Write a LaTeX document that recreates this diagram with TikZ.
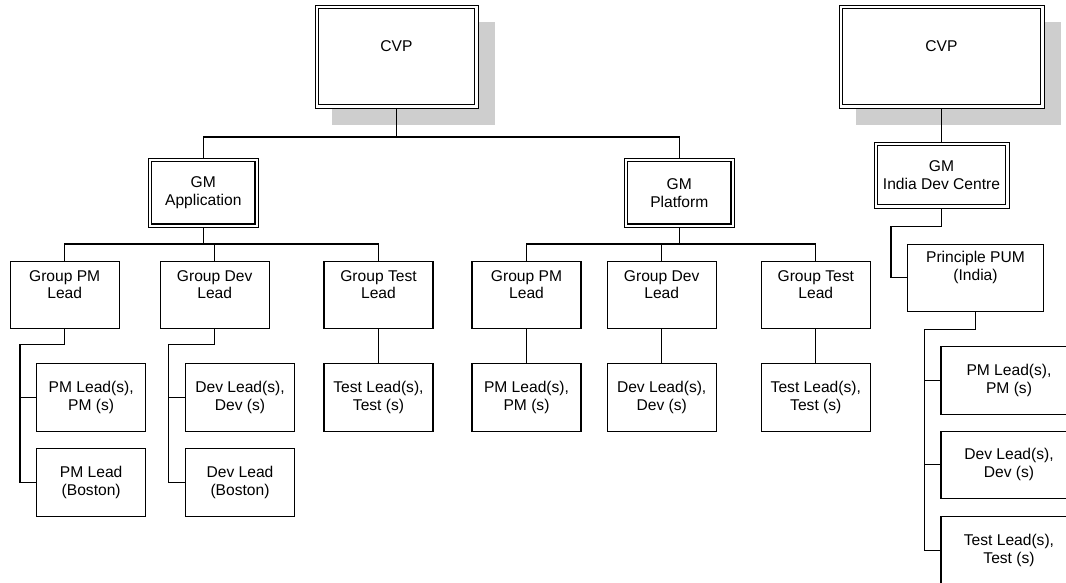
\documentclass[tikz,border=0pt]{standalone}
\usepackage{fontspec}
\setmainfont{Liberation Sans}
\definecolor{shadowgray}{RGB}{206,206,206}
\begin{document}
\begin{tikzpicture}[x=1pt,y=-1pt,
  every node/.style={font=\fontsize{15.6pt}{17.7pt}\selectfont},
  box/.style={draw, line width=1.1pt, fill=white, inner sep=0pt, outer sep=0pt,
    align=center, minimum width=109pt, minimum height=67pt},
  subbox/.style={box, minimum height=68pt},
  dblbox/.style={box, line width=0.7pt},
  innerline/.style={draw, line width=1.3pt},
  shadowed/.style={preaction={fill=shadowgray, draw=none,
    transform canvas={xshift=17pt, yshift=-17pt}}},
  wire/.style={draw, line width=1.1pt},
  lbl/.style={align=center, inner sep=0pt},
  raised/.style={label={[lbl, yshift=10.5pt]center:#1}}]
\useasboundingbox (0,0) rectangle (1066,583);
\clip (0,0) rectangle (1066,583);

% executives
\node[dblbox, shadowed, minimum width=163pt, minimum height=103pt, raised=CVP] (cvp1) at (396.5,56.5) {};
\node[dblbox, shadowed, minimum width=205pt, minimum height=103pt, raised=CVP] (cvp2) at (941.5,56.5) {};

% general managers
\node[dblbox, minimum width=110pt, minimum height=69pt] (gma) at (203.3,192.8) {GM\\Application};
\node[dblbox, minimum width=110pt, minimum height=69pt] (gmp) at (679.3,192.8) {GM\\Platform};
\node[dblbox, minimum width=135pt, minimum height=66pt] (gmi) at (941.5,175) {GM\\India Dev Centre};

\foreach \n in {cvp1,cvp2,gma,gmp,gmi}
  \draw[innerline] ([shift={(3.4pt,-3.4pt)}]\n.north west) rectangle ([shift={(-3.4pt,3.4pt)}]\n.south east);

% Application group
\node[box, raised={Group PM\\Lead}]   (gpm1) at (64.7,295) {};
\node[box, raised={Group Dev\\Lead}]  (gdv1) at (214.7,295) {};
\node[box, raised={Group Test\\Lead}] (gts1) at (378.5,295) {};
\node[subbox] (pm1) at (91.2,397.5) {PM Lead(s),\\PM (s)};
\node[subbox] (pmb) at (91.2,482.5) {PM Lead\\(Boston)};
\node[subbox] (dv1) at (240,397.5) {Dev Lead(s),\\Dev (s)};
\node[subbox] (dvb) at (240,482.5) {Dev Lead\\(Boston)};
\node[subbox] (ts1) at (378.5,397.5) {Test Lead(s),\\Test (s)};

% Platform group
\node[box, raised={Group PM\\Lead}]   (gpm2) at (526.5,295) {};
\node[box, raised={Group Dev\\Lead}]  (gdv2) at (661.7,295) {};
\node[box, raised={Group Test\\Lead}] (gts2) at (815.8,295) {};
\node[subbox] (pm2) at (526.5,397.5) {PM Lead(s),\\PM (s)};
\node[subbox] (dv2) at (661.7,397.5) {Dev Lead(s),\\Dev (s)};
\node[subbox] (ts2) at (815.8,397.5) {Test Lead(s),\\Test (s)};

% India Dev Centre
\node[box, minimum width=135.6pt, minimum height=67.7pt, raised={Principle PUM\\(India)}] (pum) at (975.5,277.9) {};
\node[box, minimum width=136pt, minimum height=67.3pt] (pm3) at (1009,380.4) {PM Lead(s),\\PM (s)};
\node[box, minimum width=136pt, minimum height=67.3pt] (dv3) at (1009,464.7) {Dev Lead(s),\\Dev (s)};
\node[box, minimum width=136pt, minimum height=68pt]   (ts3) at (1009,550.7) {Test Lead(s),\\Test (s)};

% connectors: top level
\draw[wire] (cvp1.south) -- ++(0,29) coordinate (bus1);
\draw[wire] (gma.north) |- (bus1) -| (gmp.north);
\draw[wire] (cvp2.south) -- (gmi.north);

% connectors: Application
\draw[wire] (gma.south) -- ++(0,16.7) coordinate (bus2);
\draw[wire] (gpm1.north) |- (bus2) -| (gts1.north);
\draw[wire] (gdv1.north) -- (gdv1.north |- bus2);
\draw[wire] (gpm1.south) -- ++(0,16) -| ([xshift=-16.7pt]pmb.west) -- (pmb.west);
\draw[wire] ([xshift=-16.7pt]pm1.west) -- (pm1.west);
\draw[wire] (gdv1.south) -- ++(0,16) -| ([xshift=-17.4pt]dvb.west) -- (dvb.west);
\draw[wire] ([xshift=-17.4pt]dv1.west) -- (dv1.west);
\draw[wire] (gts1.south) -- (ts1.north);

% connectors: Platform
\draw[wire] (gmp.south) -- ++(0,16.7) coordinate (bus3);
\draw[wire] (gpm2.north) |- (bus3) -| (gts2.north);
\draw[wire] (gdv2.north) -- (gdv2.north |- bus3);
\draw[wire] (gpm2.south) -- (pm2.north);
\draw[wire] (gdv2.south) -- (dv2.north);
\draw[wire] (gts2.south) -- (ts2.north);

% connectors: India
\draw[wire] (gmi.south) -- ++(0,18.7) -| ([xshift=-16.7pt]pum.west) -- (pum.west);
\draw[wire] (pum.south) -- ++(0,17.3) -| ([xshift=-16.7pt]ts3.west) -- (ts3.west);
\draw[wire] ([xshift=-16.7pt]pm3.west) -- (pm3.west);
\draw[wire] ([xshift=-16.7pt]dv3.west) -- (dv3.west);
\end{tikzpicture}
\end{document}
